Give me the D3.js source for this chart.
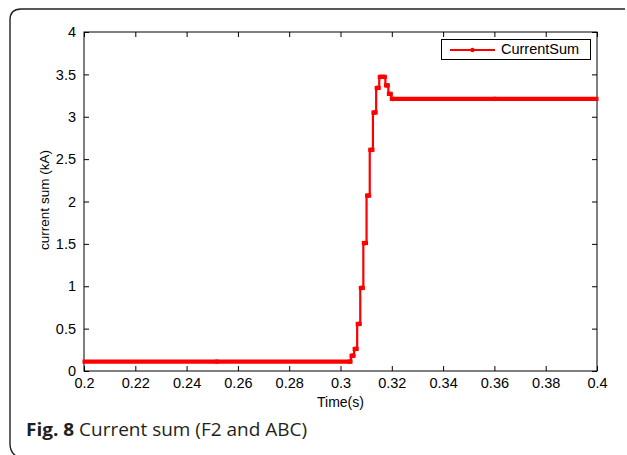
<!DOCTYPE html>
<html><head><meta charset="utf-8">
<script src="https://cdn.jsdelivr.net/npm/d3@7"></script>
<style>
html,body{margin:0;padding:0;background:#fff;}
svg{display:block;}
</style></head>
<body>
<svg id="chart" width="627" height="455"></svg>
<script>
// ---- data ----
const timeS = [0.2, 0.3035, 0.3047, 0.3059, 0.3071, 0.3083, 0.3095, 0.3108, 0.3120, 0.3133, 0.3145, 0.3157, 0.3169, 0.3181, 0.3192, 0.3204, 0.4];
const currentKA = [0.11, 0.11, 0.18, 0.26, 0.555, 0.98, 1.51, 2.07, 2.61, 3.05, 3.34, 3.47, 3.47, 3.37, 3.27, 3.21, 3.21];
const xTicks = [0.2, 0.22, 0.24, 0.26, 0.28, 0.3, 0.32, 0.34, 0.36, 0.38, 0.4];
const yTicks = [0, 0.5, 1, 1.5, 2, 2.5, 3, 3.5, 4];
const seriesName = "CurrentSum";
const xTitle = "Time(s)";
const yTitle = "current sum (kA)";
const captionBold = "Fig. 8";
const captionText = " Current sum (F2 and ABC)";

const svg = d3.select("#chart");
const L = 84, R = 597, T = 32, B = 371;
const x = d3.scaleLinear().domain([0.2, 0.4]).range([L, R]);
const y = d3.scaleLinear().domain([0, 4]).range([B, T]);
const font = "'Liberation Sans', Arial, Helvetica, sans-serif";

// outer frame (open bracket shape)
svg.append("path")
  .attr("d", "M625,9 L21,9 Q10,9 10,20 L10,444 Q10,452 16,456")
  .attr("fill", "none").attr("stroke", "#222").attr("stroke-width", 1.4);

// axes box
svg.append("rect").attr("x", L).attr("y", T).attr("width", R - L).attr("height", B - T)
  .attr("fill", "#fff").attr("stroke", "#000").attr("stroke-width", 1);

const fmt = d => String(d);
const gx = svg.append("g").attr("transform", `translate(0,${B})`)
  .call(d3.axisBottom(x).tickValues(xTicks).tickSize(-5).tickPadding(10).tickFormat(fmt));
const gxt = svg.append("g").attr("transform", `translate(0,${T})`)
  .call(d3.axisTop(x).tickValues(xTicks).tickSize(-5).tickFormat(""));
const gy = svg.append("g").attr("transform", `translate(${L},0)`)
  .call(d3.axisLeft(y).tickValues(yTicks).tickSize(-5).tickPadding(8).tickFormat(fmt));
const gyr = svg.append("g").attr("transform", `translate(${R},0)`)
  .call(d3.axisRight(y).tickValues(yTicks).tickSize(-5).tickFormat(""));
[gx, gxt, gy, gyr].forEach(g => {
  g.select(".domain").remove();
  g.selectAll("line").attr("stroke", "#000").attr("stroke-width", 1);
  g.selectAll("text").attr("font-family", font).attr("font-size", 14.5).attr("fill", "#000");
});
gx.selectAll("text").attr("dy", "0.71em").attr("y", 7);

// axis titles
svg.append("text").attr("x", (L + R) / 2).attr("y", 403).attr("text-anchor", "middle")
  .attr("dominant-baseline", "middle").attr("font-family", font).attr("font-size", 14).text(xTitle);
svg.append("text").attr("transform", `translate(45,200) rotate(-90)`)
  .attr("text-anchor", "middle").attr("dominant-baseline", "middle")
  .attr("font-family", font).attr("font-size", 13.5).text(yTitle);

// series
const pts = timeS.map((t, i) => ({ t, v: currentKA[i] }));
const red = "#ff0000";
const plot = svg.append("g");
plot.append("path").datum(pts)
  .attr("d", d3.line().x(d => x(d.t)).y(d => y(d.v)).curve(d3.curveStep))
  .attr("fill", "none").attr("stroke", red).attr("stroke-width", 2.2);
const n = pts.length;
const levels = pts.map((d, i) => ({
  x0: i === 0 ? x(d.t) : (x(pts[i - 1].t) + x(d.t)) / 2,
  x1: i === n - 1 ? x(d.t) : (x(d.t) + x(pts[i + 1].t)) / 2,
  yv: y(d.v)
}));
plot.selectAll("line.lvl").data(levels).join("line").attr("class", "lvl")
  .attr("x1", d => d.x0 - 1.5).attr("x2", d => d.x1 + 1.5)
  .attr("y1", d => d.yv).attr("y2", d => d.yv)
  .attr("stroke", red).attr("stroke-width", 4.2).attr("stroke-linecap", "butt");
plot.selectAll("circle").data(pts.slice(1, n - 1)).join("circle")
  .attr("cx", d => x(d.t)).attr("cy", d => y(d.v)).attr("r", 2.4).attr("fill", red);

// legend
const lg = svg.append("g");
lg.append("rect").attr("x", 441.5).attr("y", 39.5).attr("width", 149).attr("height", 20)
  .attr("fill", "#fff").attr("stroke", "#000").attr("stroke-width", 1);
lg.append("line").attr("x1", 450).attr("x2", 495).attr("y1", 50).attr("y2", 50)
  .attr("stroke", red).attr("stroke-width", 2);
lg.append("circle").attr("cx", 472.5).attr("cy", 50).attr("r", 2.2).attr("fill", red);
lg.append("text").attr("x", 501).attr("y", 50).attr("dominant-baseline", "middle")
  .attr("font-family", font).attr("font-size", 14.5).text(seriesName);

// caption
const cap = svg.append("text").attr("x", 26).attr("y", 436)
  .attr("font-family", "'Open Sans', 'Noto Sans', sans-serif").attr("font-size", 18)
  .attr("fill", "#231f20").attr("textLength", 281).attr("lengthAdjust", "spacingAndGlyphs");
cap.append("tspan").attr("font-weight", "bold").text(captionBold);
cap.append("tspan").text(captionText);
</script>
</body></html>
